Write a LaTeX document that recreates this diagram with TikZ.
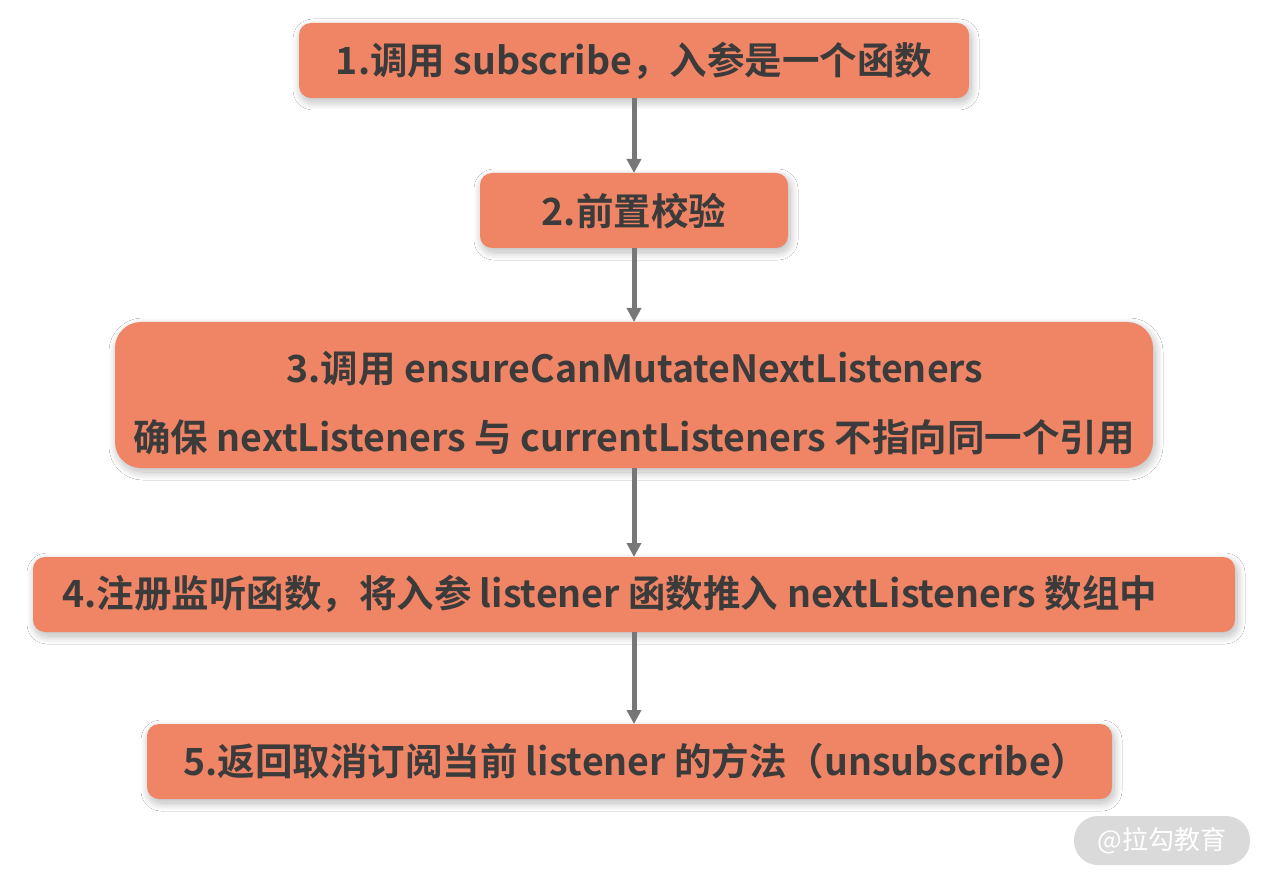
\documentclass[tikz,border=0pt]{standalone}
\usepackage{fontspec}
\setmainfont{Noto Sans CJK SC}[BoldFont={Noto Sans CJK SC Bold}]
\usetikzlibrary{shadows.blur,arrows.meta}
\definecolor{boxfill}{HTML}{F08566}
\definecolor{txt}{HTML}{3B3B3B}
\definecolor{arr}{HTML}{777777}
\definecolor{wm}{HTML}{DADADA}
\tikzset{
  stepbox/.style={fill=boxfill, rounded corners=12pt, draw=none,
    blur shadow={shadow xshift=2pt, shadow yshift=-4pt, shadow blur radius=8pt, shadow blur steps=24, shadow opacity=28}},
  lbl/.style={text=txt, font=\fontsize{37.5}{42}\selectfont\bfseries, inner sep=0pt},
  conn/.style={draw=arr, line width=5pt, -{Triangle[width=14pt,length=14pt]}},
}
\begin{document}
\begin{tikzpicture}[x=1pt,y=-1pt]
\useasboundingbox (0,0) rectangle (1268,882);
\fill[white] (0,0) rectangle (1268,882);
% boxes
\path[stepbox] (299,23) rectangle (969,98);
\path[stepbox] (480,173) rectangle (788,248);
\path[stepbox, rounded corners=26pt] (115,322) rectangle (1153,468);
\path[stepbox] (33,557) rectangle (1235,632);
\path[stepbox] (147,724) rectangle (1112,799);
% anchors
\coordinate (b1t) at (634,23); \coordinate (b1b) at (634,98);
\coordinate (b2t) at (634,173); \coordinate (b2b) at (634,248);
\coordinate (b3t) at (634,322); \coordinate (b3b) at (634,468);
\coordinate (b4t) at (634,557); \coordinate (b4b) at (634,632);
\coordinate (b5t) at (634,724);
% texts
\node[lbl] (t1) at (634,61) {1.调用 subscribe，入参是一个函数};
\node[lbl] (t2) at (634,211) {2.前置校验};
\node[lbl] (t3a) at (635,369) {3.调用 ensureCanMutateNextListeners};
\node[lbl] (t3b) at (634,437) {确保 nextListeners 与 currentListeners 不指向同一个引用};
\node[lbl, anchor=west] (t4) at (62,594) {4.注册监听函数，将入参 listener 函数推入 nextListeners 数组中};
\node[lbl, anchor=west] (t5) at (183,761) {5.返回取消订阅当前 listener 的方法（unsubscribe）};
% connectors
\draw[conn] (b1b) -- (b2t);
\draw[conn] (b2b) -- (b3t);
\draw[conn] (b3b) -- (b4t);
\draw[conn] (b4b) -- (b5t);
% watermark
\node[fill=wm, rounded corners=24pt, minimum width=176pt, minimum height=49pt, text=white, font=\fontsize{26}{30}\selectfont, inner sep=0pt] (wm) at (1162,840.5) {@拉勾教育};
\end{tikzpicture}
\end{document}
